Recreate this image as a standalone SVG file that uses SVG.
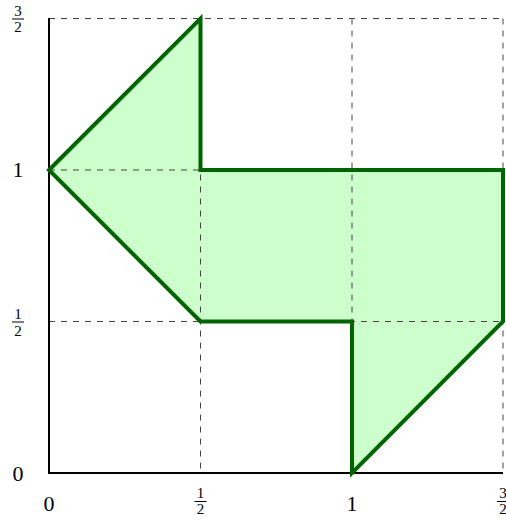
<svg xmlns="http://www.w3.org/2000/svg" width="506" height="522" viewBox="0 0 506 522">
<style>
.grid{stroke:#444;stroke-width:1;stroke-dasharray:6,6;fill:none}
.axis{stroke:#000;stroke-width:2;fill:none}
.big{font-family:"Liberation Serif",serif;font-size:22px;fill:#000;text-anchor:middle}
.sm{font-family:"Liberation Serif",serif;font-size:15px;fill:#000;text-anchor:middle}
.bar{stroke:#000;stroke-width:1}
</style>
<rect width="506" height="522" fill="#fff"/>
<g id="shape">
<polygon points="49,170 200.5,18.5 200.5,170 503,170 503,321.5 352,473 352,321.5 200.5,321.5" fill="#ccffcc"/>
</g>
<g id="grid">
<line class="grid" x1="49" y1="321.5" x2="503" y2="321.5"/>
<line class="grid" x1="49" y1="170" x2="503" y2="170"/>
<line class="grid" x1="49" y1="18.5" x2="503" y2="18.5"/>
<line class="grid" x1="200.5" y1="18.5" x2="200.5" y2="473"/>
<line class="grid" x1="352" y1="18.5" x2="352" y2="473"/>
<line class="grid" x1="503" y1="18.5" x2="503" y2="473"/>
</g>
<g id="axes">
<line class="axis" x1="49" y1="18" x2="49" y2="474"/>
<line class="axis" x1="48" y1="473" x2="503" y2="473"/>
</g>
<g id="outline">
<polygon points="49,170 200.5,18.5 200.5,170 503,170 503,321.5 352,473 352,321.5 200.5,321.5" fill="none" stroke="#006400" stroke-width="4" stroke-linejoin="miter"/>
</g>
<g id="ylabels">
<text class="sm" x="18" y="16">3</text><line class="bar" x1="12" y1="19" x2="24" y2="19"/><text class="sm" x="18" y="32">2</text>
<text class="big" x="18" y="177">1</text>
<text class="sm" x="18" y="319">1</text><line class="bar" x1="12" y1="322" x2="24" y2="322"/><text class="sm" x="18" y="336">2</text>
<text class="big" x="18" y="481">0</text>
</g>
<g id="xlabels">
<text class="big" x="49" y="511">0</text>
<text class="sm" x="200.5" y="498">1</text><line class="bar" x1="194.5" y1="501.5" x2="206.5" y2="501.5"/><text class="sm" x="200.5" y="514">2</text>
<text class="big" x="352" y="511">1</text>
<text class="sm" x="503" y="498">3</text><line class="bar" x1="497" y1="501.5" x2="509" y2="501.5"/><text class="sm" x="503" y="514">2</text>
</g>
</svg>
